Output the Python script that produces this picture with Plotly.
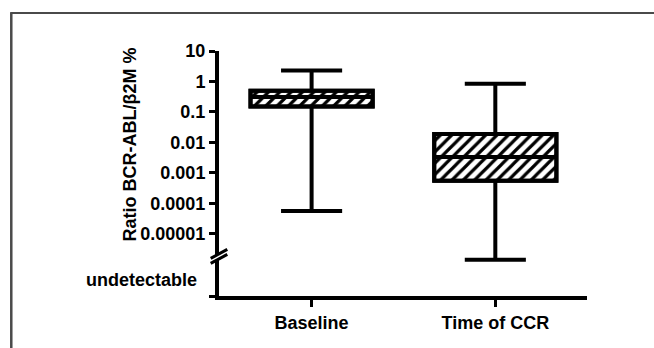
import plotly.graph_objects as go

# ---- data ----
groups = ["Baseline", "Time of CCR"]
upper_whisker = [2.3, 0.84]
q3 = [0.50, 0.019]
median = [0.31, 0.0033]
q1 = [0.15, 0.00055]
lower_whisker = [5.6e-5, 1.4e-6]

tick_values = [10, 1, 0.1, 0.01, 0.001, 0.0001, 0.00001]
tick_labels = ["10", "1", "0.1", "0.01", "0.001", "0.0001", "0.00001"]
undetectable_label = "undetectable"
y_title = "Ratio BCR-ABL/β2M %"

# ---- layout geometry (pixels) ----
W, H = 654, 348
L, R, T, B = 219, 587.5, 50.5, 296
YMIN_LOG, YMAX_LOG = -7.04, 1.0
FONT = "Liberation Sans"
FS = 18
BOX_W = 0.665


def px(x):
    return (x - L) / (R - L)


def py(y):
    return (B - y) / (B - T)


fig = go.Figure()

# hatched box bodies
fig.add_trace(go.Bar(
    x=groups,
    base=q1,
    y=[a - b for a, b in zip(q3, q1)],
    width=BOX_W,
    marker=dict(
        color="white",
        line=dict(color="black", width=4),
        pattern=dict(shape="/", fgcolor="black", bgcolor="white",
                     size=8, solidity=0.4, fillmode="replace"),
    ),
    hoverinfo="skip",
    showlegend=False,
))

# box outline, median and whiskers
fig.add_trace(go.Box(
    x=groups,
    q1=q1,
    median=median,
    q3=q3,
    lowerfence=lower_whisker,
    upperfence=upper_whisker,
    width=BOX_W,
    whiskerwidth=0.5,
    fillcolor="rgba(0,0,0,0)",
    line=dict(color="black", width=4),
    showlegend=False,
    boxpoints=False,
))

shapes = []
# outer frame (top and left)
shapes.append(dict(type="line", xref="paper", yref="paper",
                   x0=px(10), x1=px(660), y0=py(12.5), y1=py(12.5),
                   line=dict(color="#4a4a4a", width=2)))
shapes.append(dict(type="line", xref="paper", yref="paper",
                   x0=px(11), x1=px(11), y0=py(12), y1=py(360),
                   line=dict(color="#4a4a4a", width=2.5)))
# axis break: white gap + two slanted lines
shapes.append(dict(type="path", xref="paper", yref="paper", layer="above",
                   path=f"M{px(214)},{py(257.2)} L{px(224)},{py(251.8)} "
                        f"L{px(224)},{py(256.8)} L{px(214)},{py(262.2)} Z",
                   fillcolor="white", line=dict(width=0)))
for dy in (0, 5):
    shapes.append(dict(type="line", xref="paper", yref="paper", layer="above",
                       x0=px(210.7), y0=py(258.3 + dy),
                       x1=px(227.3), y1=py(249.3 + dy),
                       line=dict(color="black", width=3)))

annotations = [
    dict(text=y_title, xref="paper", yref="paper", x=px(130), y=py(144),
         textangle=-90, showarrow=False, xanchor="center", yanchor="middle",
         font=dict(family=FONT, size=FS, color="black", weight="bold")),
    dict(text=undetectable_label, xref="paper", yref="paper",
         x=px(199), y=py(280), showarrow=False, xanchor="right",
         yanchor="middle",
         font=dict(family=FONT, size=FS, color="black", weight="bold")),
]

fig.update_layout(
    width=W, height=H,
    margin=dict(l=L, r=W - R, t=T, b=H - B, pad=0),
    paper_bgcolor="white", plot_bgcolor="white",
    showlegend=False,
    barmode="overlay",
    shapes=shapes,
    annotations=annotations,
    xaxis=dict(
        type="category",
        range=[-0.504, 1.499],
        showline=True, linecolor="black", linewidth=4,
        ticks="outside", ticklen=7, tickwidth=3, tickcolor="black",
        showgrid=False, zeroline=False,
        tickfont=dict(family=FONT, size=FS, color="black", weight="bold"),
    ),
    yaxis=dict(
        type="log",
        range=[YMIN_LOG, YMAX_LOG],
        tickvals=tick_values + [10 ** YMIN_LOG],
        ticktext=tick_labels + [""],
        showline=True, linecolor="black", linewidth=4,
        ticks="outside", ticklen=6, tickwidth=3, tickcolor="black",
        showgrid=False, zeroline=False,
        tickfont=dict(family=FONT, size=FS, color="black", weight="bold"),
    ),
)

fig.write_html("out.html")
